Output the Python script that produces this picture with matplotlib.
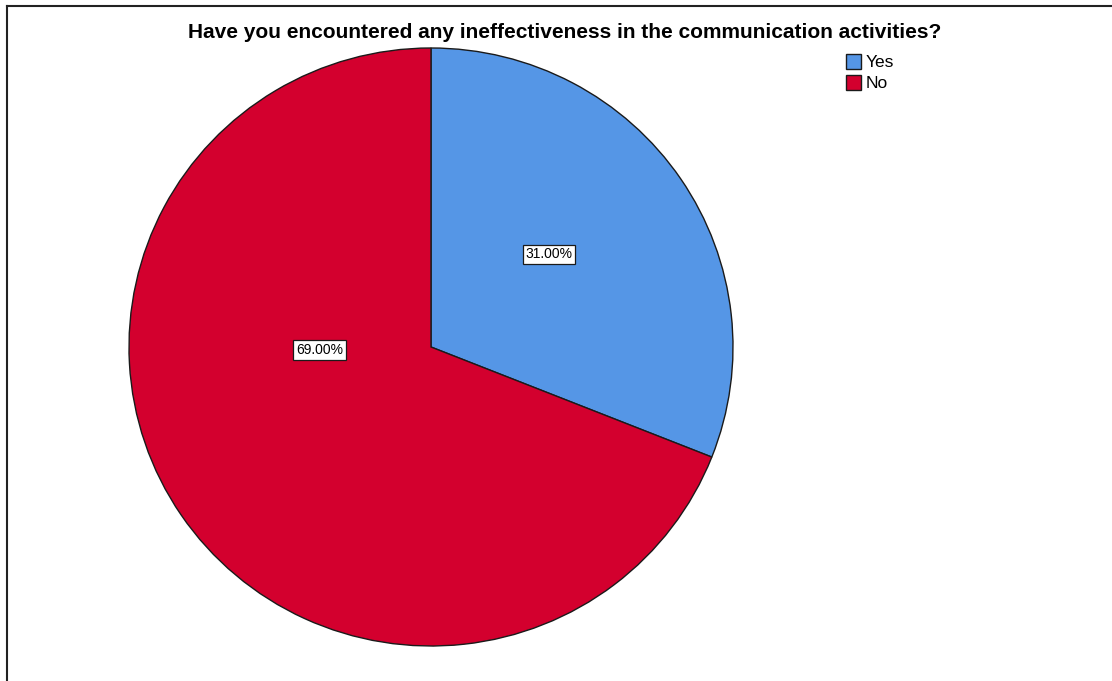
import matplotlib.pyplot as plt
from matplotlib.lines import Line2D

plt.rcParams['font.family'] = ['Liberation Sans', 'DejaVu Sans']

# survey answers
categories = ['Yes', 'No']
shares = [31.0, 69.0]
colors = ['#5596e6', '#d3002e']
# where each percentage box sits, as (x, y) in pie-radius units
label_pos = [(0.39, 0.31), (-0.37, -0.01)]

W, H = 1112, 681
fig = plt.figure(figsize=(W / 100, H / 100), dpi=100)

# pie area in pixels: centre (431, 347), radius ~302 x 299
cx, cy, rx, ry = 431, 347, 302, 299
ax = fig.add_axes([(cx - rx) / W, (H - cy - ry) / H, 2 * rx / W, 2 * ry / H])
wedges, _ = ax.pie(shares, colors=colors, startangle=90, counterclock=False,
                   wedgeprops=dict(edgecolor='#1a1a1a', linewidth=1.0))
ax.set_aspect('auto')
ax.set_xlim(-1, 1)
ax.set_ylim(-1, 1)
ax.axis('off')

for v, (x, y) in zip(shares, label_pos):
    ax.text(x, y, f'{v:.2f}%', ha='center', va='center', fontsize=10,
            bbox=dict(boxstyle='square,pad=0.2', facecolor='white',
                      edgecolor='#1a1a1a', linewidth=0.9))

fig.text(565 / W, 1 - 33 / H,
         'Have you encountered any ineffectiveness in the communication activities?',
         ha='center', va='center', fontsize=15, fontweight='bold')

fig.legend(wedges, categories, loc='upper left', bbox_to_anchor=(846 / W, 1 - 54 / H),
           frameon=False, fontsize=12.5, handlelength=0.85, handleheight=0.95,
           handletextpad=0.3, labelspacing=0.25, borderpad=0, borderaxespad=0)

# outer frame, only the top and left edges fall inside the image
fig.add_artist(Line2D([6.5 / W, 6.5 / W], [0, 1 - 5.5 / H], color='#222222', lw=1.5,
                      transform=fig.transFigure))
fig.add_artist(Line2D([6.5 / W, 1], [1 - 5.5 / H, 1 - 5.5 / H], color='#222222', lw=1.5,
                      transform=fig.transFigure))

fig.savefig('out.png', dpi=100)
